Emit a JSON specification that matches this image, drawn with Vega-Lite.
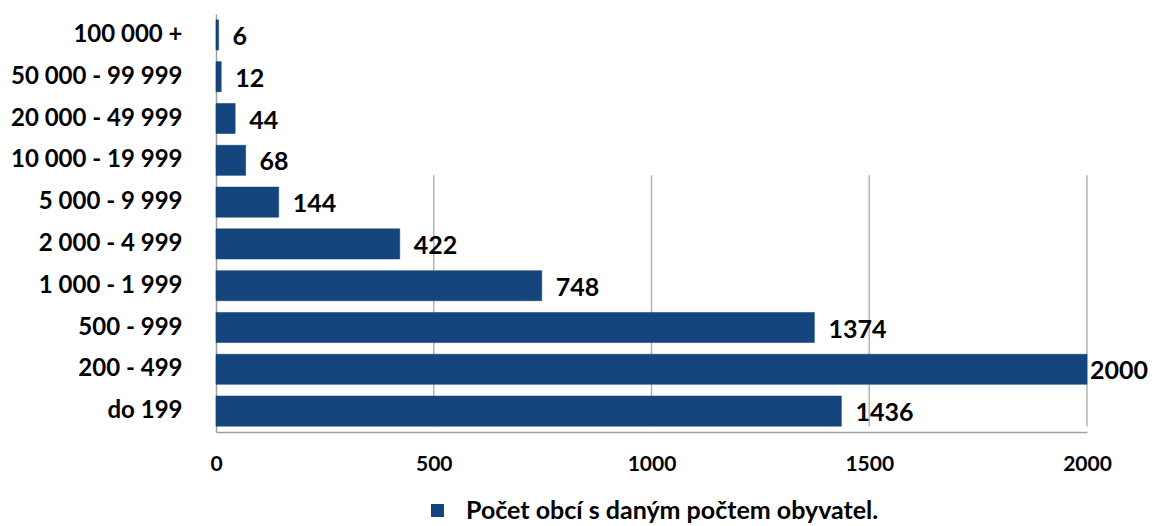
{
  "$schema": "https://vega.github.io/schema/vega-lite/v6.json",
  "width": 871,
  "height": 418,
  "autosize": {"type": "none"},
  "padding": {"left": 216, "top": 14, "right": 68, "bottom": 94},
  "background": "white",
  "config": {
    "view": {"stroke": null},
    "font": "Lato",
    "legend": {"layout": {"bottom": {"anchor": "middle"}}}
  },
  "datasets": {
    "bars": [
      {"cat": "100 000 +", "value": 6, "series": "Počet obcí s daným počtem obyvatel."},
      {"cat": "50 000 - 99 999", "value": 12, "series": "Počet obcí s daným počtem obyvatel."},
      {"cat": "20 000 - 49 999", "value": 44, "series": "Počet obcí s daným počtem obyvatel."},
      {"cat": "10 000 - 19 999", "value": 68, "series": "Počet obcí s daným počtem obyvatel."},
      {"cat": "5 000 - 9 999", "value": 144, "series": "Počet obcí s daným počtem obyvatel."},
      {"cat": "2 000 - 4 999", "value": 422, "series": "Počet obcí s daným počtem obyvatel."},
      {"cat": "1 000 - 1 999", "value": 748, "series": "Počet obcí s daným počtem obyvatel."},
      {"cat": "500 - 999", "value": 1374, "series": "Počet obcí s daným počtem obyvatel."},
      {"cat": "200 - 499", "value": 2000, "series": "Počet obcí s daným počtem obyvatel."},
      {"cat": "do 199", "value": 1436, "series": "Počet obcí s daným počtem obyvatel."}
    ],
    "grid": [
      {"x": 500, "from": "10 000 - 19 999", "to": "do 199"},
      {"x": 1000, "from": "10 000 - 19 999", "to": "do 199"},
      {"x": 1500, "from": "10 000 - 19 999", "to": "do 199"},
      {"x": 2000, "from": "10 000 - 19 999", "to": "do 199"}
    ]
  },
  "layer": [
    {
      "data": {"name": "grid"},
      "mark": {"type": "rule", "color": "#b4b4b4", "strokeWidth": 1.5},
      "encoding": {
        "x": {"field": "x", "type": "quantitative", "scale": {"domain": [0, 2000], "nice": false}},
        "y": {"field": "from", "type": "nominal", "bandPosition": 1,
              "scale": {"domain": ["100 000 +", "50 000 - 99 999", "20 000 - 49 999", "10 000 - 19 999", "5 000 - 9 999", "2 000 - 4 999", "1 000 - 1 999", "500 - 999", "200 - 499", "do 199"], "paddingInner": 0.28, "paddingOuter": 0.14}},
        "y2": {"field": "to", "bandPosition": 1}
      }
    },
    {
      "data": {"name": "bars"},
      "mark": {"type": "bar", "stroke": "#0f3a6a", "strokeWidth": 0.5},
      "encoding": {
        "y": {"field": "cat", "type": "nominal", "sort": null,
              "scale": {"domain": ["100 000 +", "50 000 - 99 999", "20 000 - 49 999", "10 000 - 19 999", "5 000 - 9 999", "2 000 - 4 999", "1 000 - 1 999", "500 - 999", "200 - 499", "do 199"], "paddingInner": 0.28, "paddingOuter": 0.14},
              "axis": {"title": null, "ticks": false, "domainColor": "#a0a0a0", "domainWidth": 1.5, "labelFontSize": 24, "labelFontWeight": "bold", "labelColor": "#000000", "labelPadding": 34, "labelLimit": 300, "grid": false}},
        "x": {"field": "value", "type": "quantitative",
              "scale": {"domain": [0, 2000], "nice": false},
              "axis": {"title": null, "values": [0, 500, 1000, 1500, 2000], "format": "d", "ticks": false, "grid": false, "domainColor": "#a0a0a0", "domainWidth": 1.5, "labelFontSize": 21, "labelFontWeight": "bold", "labelColor": "#000000", "labelPadding": 21, "labelFlush": false}},
        "color": {"field": "series", "type": "nominal",
                  "scale": {"range": ["#14467d"]},
                  "legend": {"title": null, "orient": "bottom", "direction": "horizontal", "symbolType": "square", "symbolSize": 170, "symbolStrokeWidth": 0, "labelFontSize": 25, "labelFontWeight": "bold", "labelColor": "#000000", "labelLimit": 600, "offset": 24, "labelOffset": 16}}
      }
    },
    {
      "data": {"name": "bars"},
      "mark": {"type": "text", "align": "left", "baseline": "middle", "dx": {"expr": "datum.value >= 2000 ? 3 : 14"}, "dy": 2, "fontSize": 25, "fontWeight": "bold", "color": "#000000"},
      "encoding": {
        "y": {"field": "cat", "type": "nominal", "sort": null},
        "x": {"field": "value", "type": "quantitative"},
        "text": {"field": "value", "type": "quantitative"}
      }
    }
  ]
}
